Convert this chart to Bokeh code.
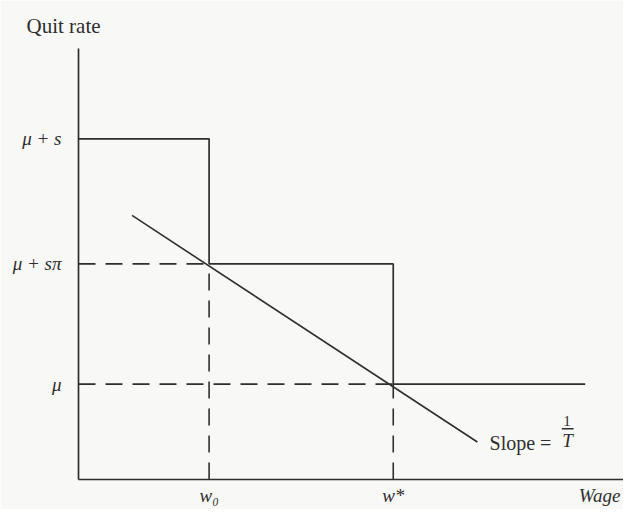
from bokeh.plotting import figure
from bokeh.models import Range1d, FixedTicker, Label
from bokeh.embed import file_html
from bokeh.resources import INLINE

# ---- model values (abstract units) ----
mu = 0.28          # base quit rate
s = 0.72           # extra quit rate
pi_ = 0.49         # probability factor
w0 = 1.0           # wage w0
w_star = 2.41      # wage w*
w_end = 3.88       # right end of the step schedule
lvl_mid = round(mu + s * pi_, 4)
lvl_top = round(mu + s, 4)

# step schedule (quit rate vs wage)
step_x = [0.0, w0, w0, w_star, w_star, w_end]
step_y = [lvl_top, lvl_top, lvl_mid, lvl_mid, mu, mu]

# line with slope 1/T
slope_x = [0.41, 3.054]
slope_y = [0.775, 0.11]

# guide lines (dashed)
guide_x0 = [0.0, 0.0, w0, w_star]
guide_y0 = [lvl_mid, mu, 0.0, 0.0]
guide_x1 = [w0, w_star, w0, w_star]
guide_y1 = [lvl_mid, mu, lvl_mid, mu]

# tick labels (the x axis title "Wage" sits at the right end of the axis)
x_ticks = [w0, w_star, 3.99]
x_tick_labels = ["w\u2080", "w*", "Wage"]
y_ticks = [mu, lvl_mid, lvl_top]
y_tick_labels = ["\u03bc", "\u03bc + s\u03c0", "\u03bc + s"]

# ---- layout / annotation positions ----
X_MAX = 4.173
Y_MAX = 1.265
SLOPE_TXT_X, SLOPE_TXT_Y = 3.147, 0.106
FRAC_X, FRAC_Y, FRAC_HALF = 3.746, 0.149, 0.045

INK = "#2e2e2e"
BG = "#f8f8f6"
SERIF = "Liberation Serif"

p = figure(width=623, height=509, output_backend="svg", toolbar_location=None,
           x_range=Range1d(0, X_MAX), y_range=Range1d(0, Y_MAX),
           min_border_left=78, min_border_right=0, min_border_top=48,
           min_border_bottom=30)
p.background_fill_color = BG
p.border_fill_color = BG
p.outline_line_color = None
p.xgrid.visible = False
p.ygrid.visible = False

p.title.text = "Quit rate"
p.title.align = "left"
p.title.offset = -52
p.title.standoff = 22
p.title.text_font = SERIF
p.title.text_font_style = "normal"
p.title.text_font_size = "21px"
p.title.text_color = INK


def style_axis(ax):
    ax.axis_line_color = INK
    ax.axis_line_width = 1.7
    ax.major_tick_line_color = None
    ax.minor_tick_line_color = None
    ax.major_tick_out = 0
    ax.major_tick_in = 0
    ax.minor_tick_out = 0
    ax.minor_tick_in = 0
    ax.major_label_text_font = SERIF
    ax.major_label_text_font_style = "italic"
    ax.major_label_text_color = INK


xa = p.xaxis[0]
style_axis(xa)
xa.ticker = FixedTicker(ticks=x_ticks)
xa.major_label_overrides = dict(zip(x_ticks, x_tick_labels))
xa.major_label_standoff = 5
xa.major_label_text_font_size = "19px"

ya = p.yaxis[0]
style_axis(ya)
ya.ticker = FixedTicker(ticks=y_ticks)
ya.major_label_overrides = dict(zip(y_ticks, y_tick_labels))
ya.major_label_standoff = 17
ya.major_label_text_font_size = "19px"

# dashed guides
p.segment(x0=guide_x0, y0=guide_y0, x1=guide_x1, y1=guide_y1,
          line_color=INK, line_width=1.6, line_dash="17 10")
# step schedule
p.line(step_x, step_y, line_color=INK, line_width=1.7)
# slope line
p.line(slope_x, slope_y, line_color=INK, line_width=1.6)

# slope annotation: "Slope = 1/T"
p.add_layout(Label(x=SLOPE_TXT_X, y=SLOPE_TXT_Y, text="Slope =", text_font=SERIF,
                   text_font_size="20px", text_color=INK,
                   text_baseline="alphabetic", text_align="left"))
p.add_layout(Label(x=FRAC_X - 0.006, y=FRAC_Y + 0.022, text="1", text_font=SERIF,
                   text_font_size="15px", text_color=INK,
                   text_baseline="alphabetic", text_align="center"))
p.segment(x0=[FRAC_X - FRAC_HALF], y0=[FRAC_Y], x1=[FRAC_X + FRAC_HALF], y1=[FRAC_Y],
          line_color=INK, line_width=1.3)
p.add_layout(Label(x=FRAC_X - 0.002, y=FRAC_Y - 0.034, text="T", text_font=SERIF,
                   text_font_style="italic",
                   text_font_size="19px", text_color=INK,
                   text_baseline="alphabetic", text_align="center"))

open("out.html", "w").write(file_html(p, INLINE))
